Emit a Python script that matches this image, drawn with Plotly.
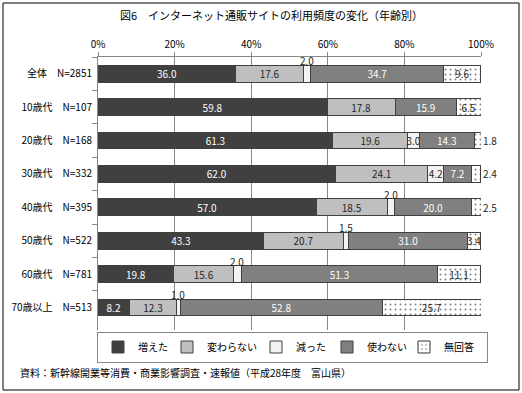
import plotly.graph_objects as go

categories = ["全体　N=2851", "10歳代　N=107", "20歳代　N=168", "30歳代　N=332",
              "40歳代　N=395", "50歳代　N=522", "60歳代　N=781", "70歳以上　N=513"]
series_names = ["増えた", "変わらない", "減った", "使わない", "無回答"]
fueta = [36.0, 59.8, 61.3, 62.0, 57.0, 43.3, 19.8, 8.2]
kawaranai = [17.6, 17.8, 19.6, 24.1, 18.5, 20.7, 15.6, 12.3]
hetta = [2.0, 0.0, 3.0, 4.2, 2.0, 1.5, 2.0, 1.0]
tsukawanai = [34.7, 15.9, 14.3, 7.2, 20.0, 31.0, 51.3, 52.8]
mukaitou = [9.6, 6.5, 1.8, 2.4, 2.5, 3.4, 11.1, 25.7]
x_ticks = [0, 20, 40, 60, 80, 100]
x_tick_labels = ["0%", "20%", "40%", "60%", "80%", "100%"]

values = [fueta, kawaranai, hetta, tsukawanai, mukaitou]
colors = ["#404040", "#bfbfbf", "#f2f2f2", "#808080", "#ffffff"]
text_colors = ["#ffffff", "#262626", "#262626", "#ffffff", "#262626"]
legend_widths = [24, 44, 26, 32, 38]

FONT = "Noto Sans CJK JP"
W, H = 522, 393
ML, MR, MT, MB = 98, 41, 57, 63
PW, PH = W - ML - MR, H - MT - MB


def px_x(px):
    return (px - ML) / PW


def px_y(py):
    return (H - MB - py) / PH


fig = go.Figure()
annotations = []
cum = [0.0] * len(categories)
for si, (name, vals) in enumerate(zip(series_names, values)):
    texts = []
    for ci, v in enumerate(vals):
        start = cum[ci]
        if v <= 0:
            texts.append("")
        elif si == 2 and v < 2.5:
            texts.append("")
            annotations.append(dict(x=start + v / 2, y=categories[ci], xref="x", yref="y",
                                    text=f"{v:.1f}", showarrow=False, yshift=13,
                                    font=dict(family=FONT, size=10, color="#262626")))
        elif si == 4 and v < 3:
            texts.append("")
            annotations.append(dict(x=start + v, y=categories[ci], xref="x", yref="y",
                                    text=f"{v:.1f}", showarrow=False, xanchor="left", xshift=0,
                                    font=dict(family=FONT, size=10, color="#262626")))
        else:
            texts.append(f"{v:.1f}")
        cum[ci] += v
    marker = dict(color=colors[si], line=dict(color="#404040", width=1))
    if si == 4:
        marker["pattern"] = dict(shape=".", fgcolor="#000000", bgcolor="#ffffff", size=5, solidity=0.12)
    fig.add_trace(go.Bar(
        name=name, y=categories, x=vals, orientation="h", marker=marker,
        text=texts, textposition="inside", insidetextanchor="middle", textangle=0,
        textfont=dict(family=FONT, size=10, color=text_colors[si]),
        constraintext="none", cliponaxis=False, legendwidth=legend_widths[si],
    ))

annotations.append(dict(x=px_x(18), y=px_y(372), xref="paper", yref="paper",
                        xanchor="left", yanchor="middle", showarrow=False,
                        text="資料：新幹線開業等消費・商業影響調査・速報値（平成28年度　富山県）",
                        font=dict(family=FONT, size=10, color="#000000")))
annotations.append(dict(x=px_x(271), y=px_y(15), xref="paper", yref="paper",
                        xanchor="center", yanchor="middle", showarrow=False,
                        text="図6　インターネット通販サイトの利用頻度の変化（年齢別）",
                        font=dict(family=FONT, size=11, color="#000000")))

fig.update_layout(
    width=W, height=H,
    margin=dict(l=ML, r=MR, t=MT, b=MB, autoexpand=False),
    paper_bgcolor="#ffffff", plot_bgcolor="#ffffff",
    barmode="stack", bargap=0.5,
    font=dict(family=FONT, size=10, color="#000000"),
    uniformtext=dict(minsize=10, mode="show"),
    xaxis=dict(side="top", range=[0, 100], tickvals=x_ticks, ticktext=x_tick_labels,
               showgrid=True, gridcolor="#868686", gridwidth=1,
               showline=True, linecolor="#868686", ticks="outside", ticklen=4,
               tickcolor="#868686", zeroline=False, fixedrange=True,
               tickfont=dict(family=FONT, size=10)),
    yaxis=dict(autorange="reversed", showline=True, linecolor="#868686",
               ticks="outside", tickson="boundaries", ticklen=5, tickcolor="#868686",
               showgrid=False, tickfont=dict(family=FONT, size=10), ticklabelstandoff=3),
    legend=dict(orientation="h", x=px_x(97), xanchor="left",
                y=px_y(347), yanchor="middle",
                bordercolor="#868686", borderwidth=1, traceorder="normal",
                font=dict(family=FONT, size=10), itemwidth=30,
                tracegroupgap=0),
    annotations=annotations,
    shapes=[dict(type="rect", xref="paper", yref="paper",
                 x0=px_x(3), x1=px_x(519), y0=px_y(390), y1=px_y(3),
                 line=dict(color="#000000", width=1), fillcolor="rgba(0,0,0,0)", layer="below")],
    showlegend=True,
)

fig.write_html("out.html", config={"displayModeBar": False},
               post_script="document.body.style.margin='0px';")
